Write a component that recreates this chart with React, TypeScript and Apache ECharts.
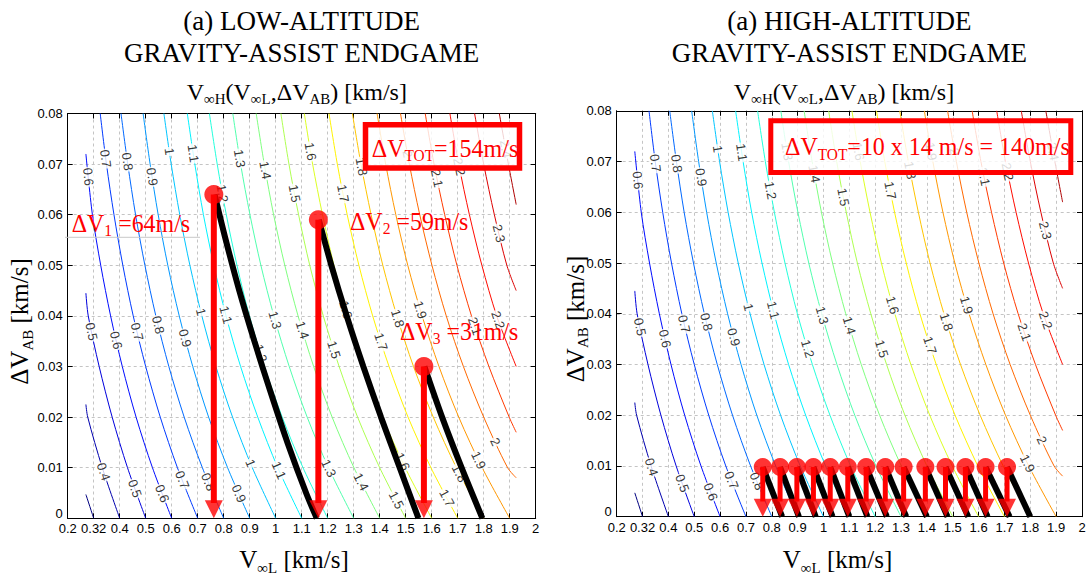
import React, { useEffect, useRef } from "react";
import * as echarts from "echarts";

// ---------- tick labels ----------
const X_TICK_LABELS = ["0.2","0.32","0.4","0.5","0.6","0.7","0.8","0.9","1","1.1","1.2","1.3","1.4","1.5","1.6","1.7","1.8","1.9","2"];
const Y_TICK_LABELS = ["0","0.01","0.02","0.03","0.04","0.05","0.06","0.07","0.08"];

// ---------- contour levels (V_inf_H, km/s) and their lines [V_inf_L, dV_AB] ----------
const CONTOUR_LEVELS = [0.3,0.4,0.5,0.6,0.7,0.8,0.9,1,1.1,1.2,1.3,1.4,1.5,1.6,1.7,1.8,1.9,2,2.1,2.2,2.3,2.4];
const CONTOUR_COLORS = ["#000080","#0000ae","#0000dc","#000bff","#003aff","#0068ff","#0097ff","#00c5ff","#00f3ff","#23ffdc","#51ffae","#80ff80","#aeff51","#dcff23","#fff300","#ffc500","#ff9700","#ff6800","#ff3a00","#ff0b00","#dc0000","#ae0000"];
const CONTOUR_LINES: number[][][] = [
  [[0.300,0],[0.270,0.0047]],
  [[0.400,0],[0.333,0.01],[0.277,0.02],[0.270,0.0225]],
  [[0.500,0],[0.430,0.01],[0.371,0.02],[0.321,0.03],[0.279,0.04],[0.270,0.0445]],
  [[0.600,0],[0.526,0.01],[0.463,0.02],[0.410,0.03],[0.365,0.04],[0.327,0.05],[0.295,0.06],[0.270,0.072]],
  [[0.700,0],[0.622,0.01],[0.556,0.02],[0.500,0.03],[0.452,0.04],[0.412,0.05],[0.378,0.06],[0.349,0.07],[0.325,0.08]],
  [[0.800,0],[0.718,0.01],[0.648,0.02],[0.589,0.03],[0.539,0.04],[0.497,0.05],[0.461,0.06],[0.431,0.07],[0.405,0.08]],
  [[0.900,0],[0.815,0.01],[0.742,0.02],[0.681,0.03],[0.629,0.04],[0.585,0.05],[0.548,0.06],[0.517,0.07],[0.490,0.08]],
  [[1.000,0],[0.910,0.01],[0.834,0.02],[0.770,0.03],[0.716,0.04],[0.670,0.05],[0.631,0.06],[0.598,0.07],[0.570,0.08]],
  [[1.100,0],[1.008,0.01],[0.931,0.02],[0.865,0.03],[0.809,0.04],[0.762,0.05],[0.722,0.06],[0.689,0.07],[0.660,0.08]],
  [[1.200,0],[1.105,0.01],[1.025,0.02],[0.957,0.03],[0.899,0.04],[0.851,0.05],[0.810,0.06],[0.775,0.07],[0.745,0.08]],
  [[1.300,0],[1.203,0.01],[1.121,0.02],[1.052,0.03],[0.993,0.04],[0.943,0.05],[0.901,0.06],[0.865,0.07],[0.835,0.08]],
  [[1.400,0],[1.301,0.01],[1.217,0.02],[1.146,0.03],[1.086,0.04],[1.035,0.05],[0.992,0.06],[0.956,0.07],[0.925,0.08]],
  [[1.500,0],[1.400,0.01],[1.315,0.02],[1.244,0.03],[1.183,0.04],[1.131,0.05],[1.088,0.06],[1.051,0.07],[1.020,0.08]],
  [[1.600,0],[1.498,0.01],[1.411,0.02],[1.338,0.03],[1.276,0.04],[1.224,0.05],[1.180,0.06],[1.142,0.07],[1.110,0.08]],
  [[1.700,0],[1.597,0.01],[1.509,0.02],[1.436,0.03],[1.373,0.04],[1.320,0.05],[1.275,0.06],[1.237,0.07],[1.205,0.08]],
  [[1.800,0],[1.695,0.01],[1.606,0.02],[1.530,0.03],[1.466,0.04],[1.412,0.05],[1.367,0.06],[1.328,0.07],[1.295,0.08]],
  [[1.900,0],[1.794,0.01],[1.704,0.02],[1.628,0.03],[1.563,0.04],[1.508,0.05],[1.462,0.06],[1.423,0.07],[1.390,0.08]],
  [[1.925,0.008],[1.892,0.01],[1.800,0.02],[1.722,0.03],[1.656,0.04],[1.601,0.05],[1.554,0.06],[1.514,0.07],[1.480,0.08]],
  [[1.925,0.017],[1.898,0.02],[1.820,0.03],[1.753,0.04],[1.697,0.05],[1.650,0.06],[1.609,0.07],[1.575,0.08]],
  [[1.925,0.030],[1.850,0.04],[1.793,0.05],[1.745,0.06],[1.704,0.07],[1.670,0.08]],
  [[1.925,0.045],[1.889,0.05],[1.841,0.06],[1.800,0.07],[1.765,0.08]],
  [[1.925,0.062],[1.895,0.07],[1.860,0.08]],
];

// contour label placements [level, dV_AB]
const LEFT_LABELS: number[][] = [
  [0.6,0.0675],[0.7,0.0711],[0.8,0.0705],[0.9,0.0675],[1,0.0725],[1.1,0.0721],[1.2,0.0642],[1.3,0.0711],[1.4,0.0688],[1.5,0.0642],[1.6,0.0725],[1.7,0.0642],[1.8,0.0695],[2,0.072],[2.1,0.0672],[2.2,0.0695],[2.4,0.073],[2.3,0.0563],
  [0.5,0.0369],[0.6,0.0352],[0.7,0.0369],[0.8,0.0382],[0.9,0.0356],[1,0.0408],[1.1,0.0402],[1.2,0.0326],[1.3,0.0392],[1.4,0.0372],[1.5,0.0333],[1.6,0.0412],[1.7,0.0349],[1.8,0.0395],[1.9,0.0412],[2.1,0.038],[2.2,0.0392],
  [0.4,0.0092],[0.5,0.0059],[0.6,0.0049],[0.7,0.0076],[0.8,0.0072],[0.9,0.0049],[1,0.0109],[1.1,0.0095],[1.3,0.0099],[1.4,0.0072],[1.5,0.0036],[1.6,0.0112],[1.7,0.004],[1.8,0.0089],[1.9,0.0115],[2,0.0151],
];
const RIGHT_LABELS: number[][] = [
  [0.6,0.0663],[0.7,0.0697],[0.8,0.0696],[0.9,0.0669],[1,0.0725],[1.1,0.0718],[1.2,0.0643],[1.3,0.072],[1.4,0.0676],[1.5,0.063],[1.6,0.072],[1.7,0.0643],[1.8,0.0683],[1.9,0.072],[2,0.072],[2.1,0.067],[2.2,0.068],[2.4,0.072],[2.3,0.0564],
  [0.5,0.0374],[0.6,0.0351],[0.7,0.038],[0.8,0.0384],[0.9,0.0354],[1,0.0413],[1.1,0.0407],[1.2,0.0331],[1.3,0.0397],[1.4,0.0377],[1.5,0.0331],[1.6,0.0417],[1.7,0.0338],[1.8,0.0384],[1.9,0.0417],[2.1,0.0364],[2.2,0.0387],
  [0.4,0.0098],[0.5,0.0066],[0.6,0.0049],[0.7,0.0072],[0.8,0.007],[1.9,0.0105],[2,0.0151],
];

// ---------- low-altitude endgame ----------
const LEFT_ARROW_X = [0.762, 1.164, 1.570];
const LEFT_ARROW_TOP = [0.064, 0.059, 0.030];
const LEFT_CURVES: number[][][] = [
  [[0.765,0.064],[0.808,0.055],[0.860,0.045],[0.918,0.035],[0.980,0.025],[1.045,0.015],[1.117,0.005],[1.158,0]],
  [[1.166,0.059],[1.214,0.050],[1.273,0.040],[1.337,0.030],[1.405,0.020],[1.477,0.010],[1.549,0]],
  [[1.572,0.030],[1.640,0.020],[1.715,0.010],[1.795,0]],
];

// ---------- high-altitude endgame ----------
const RIGHT_ARROW_X = [0.765,0.832,0.897,0.961,1.026,1.094,1.165,1.239,1.310,1.394,1.472,1.549,1.627,1.710];
const RIGHT_ARROW_TOP = [0.0098,0.0098,0.0098,0.0098,0.0098,0.0098,0.0098,0.0098,0.0098,0.0098,0.0098,0.0098,0.0098,0.0098];
const RIGHT_CURVE_END = [0.840,0.905,0.970,1.035,1.100,1.170,1.245,1.320,1.400,1.480,1.560,1.635,1.720,1.800];

// ---------- layout / style ----------
const GRIDS = [
  { left: 67.7, top: 113.5, width: 468, height: 404.8 },
  { left: 616.7, top: 110.8, width: 465.3, height: 405.9 },
];
const SERIF = "'Liberation Serif', 'Times New Roman', serif";
const TICK_FONT = "'Liberation Sans Narrow', 'Liberation Sans', Arial, sans-serif";
const LABEL_FONT = "'Liberation Sans', Arial, sans-serif";
const RED = "#ff0000";

function xAt(path: number[][], y: number) {
  let i = 0;
  while (i < path.length - 2 && y > path[i + 1][1]) i++;
  const [x0, y0] = path[i];
  const [x1, y1] = path[i + 1];
  const t = (y - y0) / (y1 - y0);
  return x0 + t * (x1 - x0);
}

function labelItems(gi: number, labels: number[][]) {
  const g = GRIDS[gi];
  const kx = g.width / 1.8;
  const ky = g.height / 0.08;
  const out: any[] = [];
  labels.forEach(([lv, y]) => {
    const idx = CONTOUR_LEVELS.findIndex((l) => Math.abs(l - lv) < 1e-9);
    if (idx < 0) return;
    const path = CONTOUR_LINES[idx];
    const x = xAt(path, y);
    const xa = xAt(path, y + 0.003);
    const xb = xAt(path, y - 0.003);
    const ang = (Math.atan2(0.006 * ky, (xb - xa) * kx) * 180) / Math.PI;
    out.push({ name: String(lv), value: [x, y], label: { rotate: -ang } });
  });
  return out;
}

function gridSeries(gi: number, labels: number[][], ax: number[], atop: number[], curves: number[][][], dot: number, shaftW: number) {
  const axes = { xAxisIndex: gi * 2, yAxisIndex: gi * 2 };
  const s: any[] = [];
  CONTOUR_LINES.forEach((path, i) => {
    s.push({
      type: "line", ...axes, data: path, symbol: "none", showSymbol: false, smooth: 0.3, silent: true,
      lineStyle: { color: CONTOUR_COLORS[i], width: 1 }, z: 2,
    });
  });
  s.push({
    type: "scatter", ...axes, silent: true, symbolSize: 1, itemStyle: { color: "rgba(0,0,0,0)" }, z: 3,
    label: {
      show: true, position: "inside", formatter: "{b}", fontSize: 13, fontFamily: LABEL_FONT, color: "#000",
      backgroundColor: "#fff", padding: [0, 1],
    },
    data: labelItems(gi, labels),
  });
  curves.forEach((c) => {
    s.push({ type: "line", ...axes, data: c, symbol: "none", showSymbol: false, smooth: 0.3, silent: true, lineStyle: { color: "#000", width: 6 }, z: 4 });
  });
  ax.forEach((x, i) => {
    s.push({ type: "line", ...axes, data: [[x, atop[i]], [x, 0.003]], symbol: "none", showSymbol: false, silent: true, lineStyle: { color: RED, width: shaftW }, z: 5 });
  });
  s.push({
    type: "scatter", ...axes, silent: true, symbol: "triangle", symbolSize: [18, 18], symbolRotate: 180, symbolOffset: [0, -9],
    itemStyle: { color: RED }, z: 6, data: ax.map((x) => [x, 0]),
  });
  s.push({
    type: "scatter", ...axes, silent: true, symbol: "circle", symbolSize: dot,
    itemStyle: { color: RED }, z: 7, data: ax.map((x, i) => [x, atop[i]]),
  });
  return s;
}

function richStyles(size: number, sub: number, color: string, shift: number) {
  const L = size + 6;
  return {
    m: { fontSize: size, fontFamily: SERIF, fill: color, lineHeight: L, verticalAlign: "middle" },
    s: { fontSize: sub, fontFamily: SERIF, fill: color, lineHeight: L - 2 * shift, verticalAlign: "bottom" },
  };
}

function rtext(x: number, y: number, text: string, size: number, sub: number, shift: number, color: string, align: string, extra: any = {}) {
  return {
    type: "text", x, y, z: 100, silent: true, ...extra,
    style: {
      text, fill: color, fontSize: size, fontFamily: SERIF, align, verticalAlign: "middle",
      rich: richStyles(size, sub, color, shift),
    },
  };
}

function ptext(x: number, y: number, text: string, size: number) {
  return {
    type: "text", x, y, z: 100, silent: true,
    style: { text, fill: "#000", fontSize: size, fontFamily: SERIF, align: "center", verticalAlign: "middle" },
  };
}

function buildOption() {
  const xAxes: any[] = [];
  const yAxes: any[] = [];
  GRIDS.forEach((_, gi) => {
    const common = { gridIndex: gi, type: "value", min: 0.2, max: 2, interval: 0.1 };
    xAxes.push({
      ...common, position: "bottom",
      axisLine: { show: true, onZero: false, lineStyle: { color: "#000", width: 1 } },
      axisTick: { show: true, inside: true, length: 5, lineStyle: { color: "#000" } },
      axisLabel: {
        show: true, margin: 5, lineHeight: 11, color: "#000", fontSize: 13, fontFamily: TICK_FONT,
        formatter: (v: number) => X_TICK_LABELS[Math.round((v - 0.2) / 0.1)] ?? "",
      },
      splitLine: { show: true, lineStyle: { color: "#c4c4c4", type: [3, 3], width: 1 } },
    });
    xAxes.push({
      ...common, position: "top",
      axisLine: { show: true, onZero: false, lineStyle: { color: "#000", width: 1 } },
      axisTick: { show: true, inside: true, length: 5, lineStyle: { color: "#000" } },
      axisLabel: { show: false }, splitLine: { show: false },
    });
    const ycommon = { gridIndex: gi, type: "value", min: 0, max: 0.08, interval: 0.01 };
    yAxes.push({
      ...ycommon, position: "left",
      axisLine: { show: true, onZero: false, lineStyle: { color: "#000", width: 1 } },
      axisTick: { show: true, inside: true, length: 5, lineStyle: { color: "#000" } },
      axisLabel: {
        show: true, margin: 5, lineHeight: 10, color: "#000", fontSize: 13, fontFamily: TICK_FONT,
        verticalAlignMinLabel: "bottom",
        formatter: (v: number) => Y_TICK_LABELS[Math.round(v / 0.01)] ?? "",
      },
      splitLine: { show: true, lineStyle: { color: "#c4c4c4", type: [3, 3], width: 1 } },
    });
    yAxes.push({
      ...ycommon, position: "right",
      axisLine: { show: true, onZero: false, lineStyle: { color: "#000", width: 1 } },
      axisTick: { show: true, inside: true, length: 5, lineStyle: { color: "#000" } },
      axisLabel: { show: false }, splitLine: { show: false },
    });
  });

  const series = [
    ...gridSeries(0, LEFT_LABELS, LEFT_ARROW_X, LEFT_ARROW_TOP, LEFT_CURVES, 19, 6),
    ...gridSeries(
      1, RIGHT_LABELS, RIGHT_ARROW_X, RIGHT_ARROW_TOP,
      RIGHT_ARROW_X.map((x, i) => [[x, RIGHT_ARROW_TOP[i]], [RIGHT_CURVE_END[i], 0]]),
      18, 5
    ),
  ];

  const HEAD = "{m|V}{s|∞H}{m|(V}{s|∞L}{m|,ΔV}{s|AB}{m|) [km/s]}";
  const XLAB = "{m|V}{s|∞L}{m| [km/s]}";
  const YLAB = "{m|ΔV}{s|AB}{m| [km/s]}";

  const graphic: any[] = [
    ptext(301.7, 20.8, "(a) LOW-ALTITUDE", 27),
    ptext(301.7, 52.5, "GRAVITY-ASSIST ENDGAME", 27),
    rtext(296.8, 91.8, HEAD, 24, 15, 7.8, "#000", "center"),
    ptext(849.3, 20.8, "(a) HIGH-ALTITUDE", 27),
    ptext(849.3, 52.5, "GRAVITY-ASSIST ENDGAME", 27),
    rtext(844, 91.8, HEAD, 24, 15, 7.8, "#000", "center"),
    rtext(294, 559.5, XLAB, 25, 15, 8.4, "#000", "center"),
    rtext(837.5, 559.5, XLAB, 25, 15, 8.4, "#000", "center"),
    rtext(19.8, 321.5, YLAB, 25, 15, 8.4, "#000", "center", { rotation: Math.PI / 2 }),
    rtext(575, 319, YLAB, 25, 15, 8.4, "#000", "center", { rotation: Math.PI / 2 }),
    { type: "line", z: 99, silent: true, shape: { x1: 65, y1: 237.3, x2: 200, y2: 237.3 }, style: { stroke: "#c8c8c8", lineWidth: 1 } },
    rtext(71.7, 222.9, "{m|ΔV}{s|1}{m| =64m/s}", 26, 17, 9, RED, "left", { scaleX: 0.92 }),
    rtext(350, 221.2, "{m|ΔV}{s|2}{m| =59m/s}", 26, 17, 9, RED, "left", { scaleX: 0.92 }),
    rtext(400, 331.2, "{m|ΔV}{s|3}{m| =31m/s}", 26, 17, 9, RED, "left", { scaleX: 0.92 }),
    { type: "rect", z: 98, silent: true, shape: { x: 365.5, y: 124.7, width: 154, height: 43.3 }, style: { fill: "rgba(255,255,255,0.82)", stroke: RED, lineWidth: 5.5 } },
    rtext(371.7, 148.2, "{m|ΔV}{s|TOT}{m|=154m/s}", 25, 16, 8, RED, "left", { scaleX: 0.96 }),
    { type: "rect", z: 98, silent: true, shape: { x: 770.8, y: 120.8, width: 300, height: 51.7 }, style: { fill: "rgba(255,255,255,0.82)", stroke: RED, lineWidth: 5 } },
    rtext(785, 146.5, "{m|ΔV}{s|TOT}{m|=10 x 14 m/s = 140m/s}", 25, 16, 8, RED, "left", { scaleX: 0.96 }),
  ];

  return {
    animation: false,
    backgroundColor: "#fff",
    textStyle: { fontFamily: TICK_FONT },
    grid: GRIDS.map((g) => ({ ...g, containLabel: false, outerBoundsMode: "none" })),
    xAxis: xAxes,
    yAxis: yAxes,
    series,
    graphic,
  };
}

export default function App() {
  const ref = useRef<HTMLDivElement>(null);
  useEffect(() => {
    const chart = echarts.init(ref.current as HTMLDivElement, null, { renderer: "svg" });
    chart.setOption(buildOption() as any);
    return () => chart.dispose();
  }, []);
  return (
    <div
      ref={ref}
      style={{ position: "fixed", left: 0, top: 0, width: 1087, height: 582, background: "#fff" }}
    />
  );
}
